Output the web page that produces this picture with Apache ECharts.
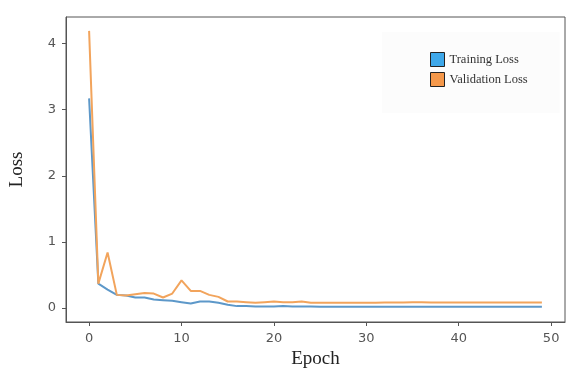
<!DOCTYPE html>
<html>
<head>
<meta charset="utf-8">
<script src="https://cdn.jsdelivr.net/npm/echarts@6/dist/echarts.min.js"></script>
<style>
html, body { margin: 0; padding: 0; background: #fff; }
#chart { width: 584px; height: 377px; }
</style>
</head>
<body>
<div id="chart"></div>
<script>
var epochs = [0,1,2,3,4,5,6,7,8,9,10,11,12,13,14,15,16,17,18,19,20,21,22,23,24,
    25,26,27,28,29,30,31,32,33,34,35,36,37,38,39,40,41,42,43,44,45,46,47,48,49];
var trainLoss = [3.17,0.37,0.28,0.20,0.19,0.16,0.16,0.13,0.12,0.11,0.09,0.07,0.10,0.10,0.08,0.05,0.03,0.03,0.025,0.025,
    0.025,0.03,0.025,0.025,0.025,0.02,0.02,0.02,0.02,0.02,0.02,0.02,0.02,0.02,0.02,0.02,0.02,0.02,0.02,0.02,
    0.02,0.02,0.02,0.02,0.02,0.02,0.02,0.02,0.02,0.02];
var valLoss = [4.19,0.37,0.84,0.20,0.19,0.21,0.23,0.22,0.16,0.22,0.42,0.26,0.26,0.20,0.17,0.10,0.10,0.09,0.08,0.09,
    0.10,0.09,0.09,0.10,0.08,0.08,0.08,0.08,0.08,0.08,0.08,0.08,0.085,0.085,0.085,0.09,0.09,0.085,0.085,0.085,
    0.085,0.085,0.085,0.085,0.085,0.085,0.085,0.085,0.085,0.085];
var xTicks = [0, 10, 20, 30, 40, 50];
var yTicks = [0, 1, 2, 3, 4];

function pairs(ys) {
    return epochs.map(function (e, i) { return [e, ys[i]]; });
}

var myChart = echarts.init(document.getElementById('chart'));

var tickLabel = { fontFamily: 'DejaVu Sans', fontSize: 13, color: '#555' };

var option = {
    animation: false,
    backgroundColor: '#fff',
    grid: {
        left: 65, right: 19, top: 17, bottom: 55,
        show: true,
        borderColor: '#555',
        borderWidth: 1
    },
    legend: {
        orient: 'vertical',
        left: 382,
        top: 32,
        padding: [20, 32, 26, 48],
        backgroundColor: '#fcfcfc',
        itemWidth: 14,
        itemHeight: 14,
        itemGap: 5,
        icon: 'rect',
        textStyle: { fontFamily: 'Liberation Serif', fontSize: 12.5, color: '#333' },
        data: [
            { name: 'Training Loss', itemStyle: { color: '#3ea8ea', borderColor: '#222', borderWidth: 1 } },
            { name: 'Validation Loss', itemStyle: { color: '#f5984a', borderColor: '#222', borderWidth: 1 } }
        ]
    },
    xAxis: {
        type: 'value',
        min: -2.5,
        max: 51.5,
        name: 'Epoch',
        nameLocation: 'middle',
        nameGap: 20,
        nameTextStyle: { fontFamily: 'Liberation Serif', fontSize: 19, color: '#222' },
        axisLine: { show: true, onZero: false, lineStyle: { color: '#555' } },
        axisTick: { show: true, length: 4, customValues: xTicks, lineStyle: { color: '#555' } },
        axisLabel: Object.assign({ customValues: xTicks, margin: 10 }, tickLabel),
        splitLine: { show: false }
    },
    yAxis: {
        type: 'value',
        min: -0.21,
        max: 4.4,
        name: 'Loss',
        nameLocation: 'middle',
        nameGap: 39,
        nameTextStyle: { fontFamily: 'Liberation Serif', fontSize: 19, color: '#222' },
        axisLine: { show: true, onZero: false, lineStyle: { color: '#555' } },
        axisTick: { show: true, length: 4, customValues: yTicks, lineStyle: { color: '#555' } },
        axisLabel: Object.assign({ customValues: yTicks, margin: 10 }, tickLabel),
        splitLine: { show: false }
    },
    series: [
        {
            name: 'Training Loss',
            type: 'line',
            showSymbol: false,
            color: '#5d98c9',
            lineStyle: { width: 2, color: '#5d98c9' },
            data: pairs(trainLoss)
        },
        {
            name: 'Validation Loss',
            type: 'line',
            showSymbol: false,
            color: '#f2a45c',
            lineStyle: { width: 2, color: '#f2a45c' },
            data: pairs(valLoss)
        }
    ]
};
myChart.setOption(option);
</script>
</body>
</html>
